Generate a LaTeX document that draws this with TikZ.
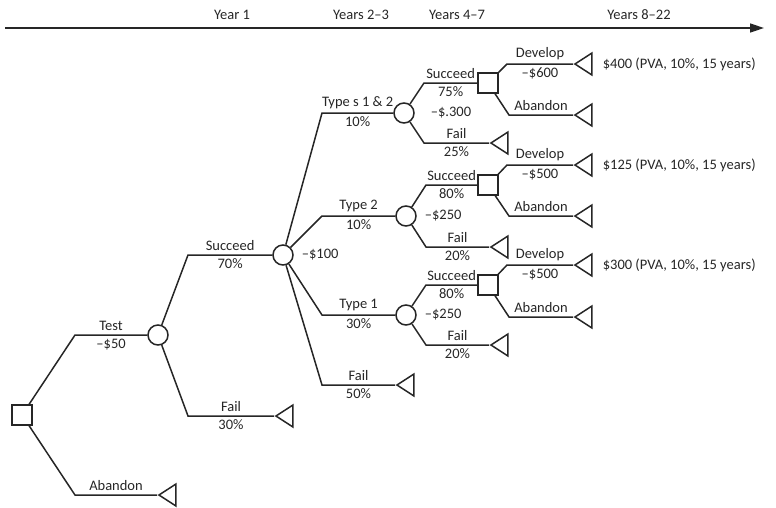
\documentclass[tikz,border=0pt]{standalone}
\usepackage{fontspec}
\setmainfont{Carlito}
\usetikzlibrary{calc, positioning, shapes.geometric, arrows.meta}

\begin{document}
\begin{tikzpicture}[x=1pt, y=-1pt, line width=1.5pt, color=black!85,
  every node/.style={font=\fontsize{14.5}{16}\selectfont},
  decision/.style={draw, rectangle, minimum size=20pt, inner sep=0pt},
  chance/.style={draw, circle, minimum size=20pt, inner sep=0pt},
  payoff/.style={draw, isosceles triangle, shape border rotate=180,
    isosceles triangle stretches, minimum width=22pt, minimum height=17pt,
    inner sep=0pt, anchor=apex},
  elbow/.style={to path={-- ($(\tikztostart.center |- \tikztotarget.center)+(#1,0)$)
    -- (\tikztotarget) \tikztonodes}},
]
  \useasboundingbox (0,0) rectangle (776,507);
  % time axis
  \coordinate (ax0) at (5,28);
  \coordinate (ax1) at (764,28);
  \draw[-{Triangle[length=14pt,width=9pt]}] (ax0) -- (ax1);
  \node (yr1) at (232,15) {Year 1};
  \node (yr2) at (361,15) {Years 2--3};
  \node (yr3) at (457,15) {Years 4--7};
  \node (yr4) at (639,15) {Years 8--22};

  % test or abandon
  \node[decision] (d0) at (22,415) {};
  \node[chance] (c1) at (158,335) {};
  \node[payoff] (t0) at (157,495) {};
  \draw (d0) to[elbow=53] node[above] (lt) {Test} node[below] (ltc) {--\$50} (c1);
  \draw (d0) to[elbow=53] node[above] (la0) {Abandon} (t0);

  % test result
  \node[chance] (c2) at (283,255) {};
  \node[payoff] (t1) at (274,416) {};
  \draw (c1) to[elbow=30] node[above] (ls) {Succeed} node[below] (lsp) {70\%} (c2);
  \draw (c1) to[elbow=30] node[above] (lf) {Fail} node[below] (lfp) {30\%} (t1);
  \node[right=4pt of c2] (lc2) {--\$100};

  % product types
  \node[chance] (c3) at (404,113) {};
  \node[chance] (c4) at (406,216) {};
  \node[chance] (c5) at (406,315) {};
  \node[payoff] (t2) at (395,385) {};
  \draw (c2) to[elbow=39] node[above] (l12) {Type s 1 \& 2} node[below] (l12p) {10\%} (c3);
  \draw (c2) to[elbow=39] node[above] (l2) {Type 2} node[below] (l2p) {10\%} (c4);
  \draw (c2) to[elbow=39] node[above] (l1) {Type 1} node[below] (l1p) {30\%} (c5);
  \draw (c2) to[elbow=39] node[above] (lf2) {Fail} node[below] (lf2p) {50\%} (t2);

  % second tests
  \node[decision] (d1) at (488,83) {};
  \node[decision] (d2) at (488,185) {};
  \node[decision] (d3) at (488,285) {};
  \node[payoff] (t3) at (489,143) {};
  \node[payoff] (t4) at (489,247) {};
  \node[payoff] (t5) at (489,345) {};
  \draw (c3) to[elbow=20] node[above] (ls3) {Succeed} node[below] (ls3p) {75\%} (d1);
  \draw (c3) to[elbow=20] node[above] (lf3) {Fail} node[below] (lf3p) {25\%} (t3);
  \draw (c4) to[elbow=20] node[above] (ls4) {Succeed} node[below] (ls4p) {80\%} (d2);
  \draw (c4) to[elbow=20] node[above] (lf4) {Fail} node[below] (lf4p) {20\%} (t4);
  \draw (c5) to[elbow=20] node[above] (ls5) {Succeed} node[below] (ls5p) {80\%} (d3);
  \draw (c5) to[elbow=20] node[above] (lf5) {Fail} node[below] (lf5p) {20\%} (t5);
  \node[right=12pt of c3] (lc3) {--\$.300};
  \node[right=4pt of c4] (lc4) {--\$250};
  \node[right=4pt of c5] (lc5) {--\$250};

  % develop or abandon
  \node[payoff] (e1) at (573,64) {};
  \node[payoff] (e2) at (573,165) {};
  \node[payoff] (e3) at (573,265) {};
  \node[payoff] (a1) at (573,115) {};
  \node[payoff] (a2) at (573,216) {};
  \node[payoff] (a3) at (573,317) {};
  \draw (d1) to[elbow=19] node[above] (ld1) {Develop} node[below] (ld1c) {--\$600} (e1);
  \draw (d1) to[elbow=21] node[above] (la1) {Abandon} (a1);
  \draw (d2) to[elbow=19] node[above] (ld2) {Develop} node[below] (ld2c) {--\$500} (e2);
  \draw (d2) to[elbow=21] node[above] (la2) {Abandon} (a2);
  \draw (d3) to[elbow=19] node[above] (ld3) {Develop} node[below] (ld3c) {--\$500} (e3);
  \draw (d3) to[elbow=21] node[above] (la3) {Abandon} (a3);
  \node[right=6pt of e1] (v1) {\$400 (PVA, 10\%, 15 years)};
  \node[right=6pt of e2] (v2) {\$125 (PVA, 10\%, 15 years)};
  \node[right=6pt of e3] (v3) {\$300 (PVA, 10\%, 15 years)};
\end{tikzpicture}
\end{document}
